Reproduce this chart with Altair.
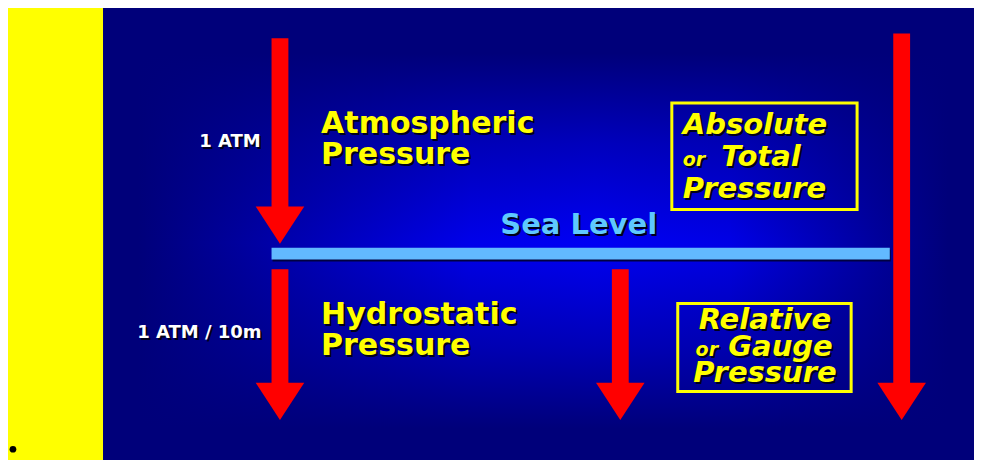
import altair as alt
import pandas as pd

# Plot area (the page adds an 8px margin all round)
W, H = 966, 452
# Reference coordinate frame that is mapped onto the plot area
REF_X = [7, 982]
REF_Y = [6, 468]

# ---- panels ----
yellow_x, yellow_x2, yellow_y, yellow_y2 = [7], [103], [6], [468]
blue_x, blue_x2, blue_y, blue_y2 = [103], [982], [6], [468]

# ---- arrows ----
arrow_ids = ["atm", "hydro", "gauge", "absolute"]
arrow_cx = [281.5, 281.5, 625, 909]
arrow_top = [37, 273, 273, 32]
arrow_head = [209, 389, 389, 389]
arrow_tip = [247, 427, 427, 427]
SHAFT_HALF = 8.5
HEAD_HALF = 24.5

# ---- sea level bar ----
sea_x, sea_x2, sea_y, sea_y2 = [273], [897], [251], [263]

# ---- label boxes ----
box_x = [677, 683]
box_x2 = [864, 858]
box_y = [103, 308]
box_y2 = [212, 398]

# ---- texts ----
txt = ["1 ATM", "1 ATM / 10m",
       "Atmospheric", "Pressure", "Hydrostatic", "Pressure",
       "Sea Level",
       "Absolute", "or", "Total", "Pressure",
       "Relative", "or", "Gauge", "Pressure"]
txt_x = [262, 263, 323, 323, 323, 323, 583, 688, 688, 727, 688, 771, 701, 734, 771]
txt_y = [148, 343, 134, 165, 329, 361, 237, 135, 167, 167, 200, 334, 362, 362, 388]
txt_size = [18, 18, 30, 30, 30, 30, 29, 29, 19, 29, 29, 29, 19, 29, 29]
txt_color = ["#ffffff", "#ffffff", "#ffff00", "#ffff00", "#ffff00", "#ffff00",
             "#5ec8ff", "#ffff00", "#ffff00", "#ffff00", "#ffff00",
             "#ffff00", "#ffff00", "#ffff00", "#ffff00"]
txt_italic = [False] * 7 + [True] * 8
txt_align = ["right", "right", "left", "left", "left", "left", "center",
             "left", "left", "left", "left", "center", "left", "left", "center"]

bullet_x, bullet_y = [12], [457]

NAVY = "#00007a"
BRIGHT = "#0000f4"

xs = alt.Scale(domain=REF_X, nice=False, zero=False)
ys = alt.Scale(domain=REF_Y, nice=False, zero=False, reverse=True)


def X(f="x"):
    return alt.X(f"{f}:Q", scale=xs, axis=None)


def Y(f="y"):
    return alt.Y(f"{f}:Q", scale=ys, axis=None)


def rect_df(x, x2, y, y2):
    return pd.DataFrame({"x": x, "x2": x2, "y": y, "y2": y2})


def rect_layer(df, **mk):
    return alt.Chart(df).mark_rect(clip=True, **mk).encode(
        x=X(), x2="x2:Q", y=Y(), y2="y2:Q")


layers = []
layers.append(rect_layer(rect_df(yellow_x, yellow_x2, yellow_y, yellow_y2), color="#ffff00"))

hgrad = alt.LinearGradient(
    gradient="linear", x1=0, y1=0, x2=1, y2=0,
    stops=[alt.GradientStop(offset=0, color=NAVY),
           alt.GradientStop(offset=0.04, color=NAVY),
           alt.GradientStop(offset=0.22, color="#0000b0"),
           alt.GradientStop(offset=0.42, color="#0000ea"),
           alt.GradientStop(offset=0.565, color=BRIGHT),
           alt.GradientStop(offset=0.72, color="#0000e6"),
           alt.GradientStop(offset=0.88, color="#0000a0"),
           alt.GradientStop(offset=0.97, color=NAVY),
           alt.GradientStop(offset=1, color=NAVY)])
vshade = alt.LinearGradient(
    gradient="linear", x1=0, y1=0, x2=0, y2=1,
    stops=[alt.GradientStop(offset=0, color="rgba(0,0,122,1)"),
           alt.GradientStop(offset=0.1, color="rgba(0,0,122,1)"),
           alt.GradientStop(offset=0.3, color="rgba(0,0,122,0.45)"),
           alt.GradientStop(offset=0.52, color="rgba(0,0,122,0)"),
           alt.GradientStop(offset=0.75, color="rgba(0,0,122,0.5)"),
           alt.GradientStop(offset=0.93, color="rgba(0,0,122,1)"),
           alt.GradientStop(offset=1, color="rgba(0,0,122,1)")])
blue_df = rect_df(blue_x, blue_x2, blue_y, blue_y2)
layers.append(rect_layer(blue_df, color=hgrad))
layers.append(rect_layer(blue_df, color=vshade))

# boxes
layers.append(rect_layer(rect_df(box_x, box_x2, box_y, box_y2),
                         filled=False, stroke="#ffff00", strokeWidth=3))

# sea level bar + shadow
layers.append(rect_layer(rect_df([sea_x[0] + 1], [sea_x2[0] + 1], [sea_y[0] + 2], [sea_y2[0] + 2]),
                         color="#000040"))
layers.append(rect_layer(rect_df(sea_x, sea_x2, sea_y, sea_y2), color="#62b9ff"))

# arrows: shafts
shaft_df = pd.DataFrame({
    "x": [c - SHAFT_HALF for c in arrow_cx],
    "x2": [c + SHAFT_HALF for c in arrow_cx],
    "y": arrow_top,
    "y2": [h + 1 for h in arrow_head],
})
layers.append(rect_layer(shaft_df, color="#ff0000"))

# arrows: heads
head_rows = []
for aid, c, h, t in zip(arrow_ids, arrow_cx, arrow_head, arrow_tip):
    head_rows += [
        {"id": aid, "x": c - HEAD_HALF, "y": h, "y2": h},
        {"id": aid, "x": c, "y": h, "y2": t},
        {"id": aid, "x": c + HEAD_HALF, "y": h, "y2": h},
    ]
head_df = pd.DataFrame(head_rows)
layers.append(alt.Chart(head_df).mark_area(color="#ff0000", clip=True).encode(
    x=X(), y=Y(), y2="y2:Q", detail="id:N"))

# texts with drop shadows
tdf = pd.DataFrame({"text": txt, "x": txt_x, "y": txt_y, "size": txt_size,
                    "color": txt_color, "italic": txt_italic, "align": txt_align})
for (italic, align), g in tdf.groupby(["italic", "align"]):
    style = "italic" if italic else "normal"
    common = dict(font="DejaVu Sans", fontWeight="bold", fontStyle=style,
                  align=align, baseline="alphabetic")
    enc = dict(x=X(), y=Y(), text="text:N",
               size=alt.Size("size:Q", scale=None, legend=None))
    layers.append(alt.Chart(g).mark_text(dx=2, dy=2, color="#00001a", **common).encode(**enc))
    layers.append(alt.Chart(g).mark_text(**common).encode(
        color=alt.Color("color:N", scale=None, legend=None), **enc))

# bullet
layers.append(alt.Chart(pd.DataFrame({"x": bullet_x, "y": bullet_y})).mark_point(
    filled=True, color="#000000", size=45, opacity=1, shape="circle").encode(x=X(), y=Y()))

chart = alt.layer(*layers).properties(
    width=W, height=H, padding=0,
    autosize=alt.AutoSizeParams(type="none"),
    background="#ffffff",
).configure_view(stroke=None)

chart.save("out.html", embed_options={"renderer": "svg", "actions": False})
